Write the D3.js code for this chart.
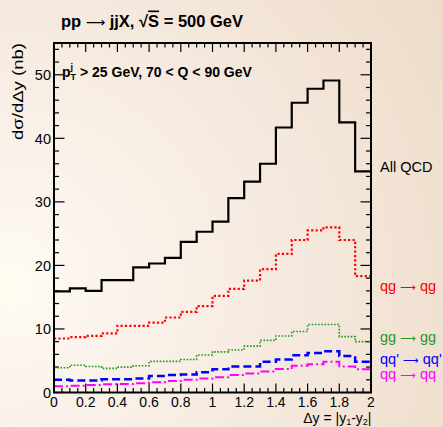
<!DOCTYPE html>
<html><head><meta charset="utf-8">
<script src="https://cdn.jsdelivr.net/npm/d3@7"></script>
<style>html,body{margin:0;padding:0;background:#f5e8dc;}svg{display:block;}</style>
</head><body>
<svg id="c" width="443" height="427"></svg>
<script>
// ---- data ----
const binEdges = [0,0.1,0.2,0.3,0.4,0.5,0.6,0.7,0.8,0.9,1.0,1.1,1.2,1.3,1.4,1.5,1.6,1.7,1.8,1.9,2.0];
const allQCD = [15.9,16.4,16.0,17.7,17.7,19.7,20.3,21.2,23.7,25.3,26.9,30.6,33.2,36.0,41.7,45.6,47.8,49.1,42.5,34.8];
const qgqg   = [8.5,8.7,8.9,9.3,10.5,10.5,11.0,11.8,12.7,13.6,15.2,16.3,17.6,19.4,21.8,24.0,25.5,26.0,24.0,18.3];
const gggg   = [3.9,4.3,4.1,3.8,4.0,4.2,4.9,4.9,5.2,5.9,6.4,6.7,7.3,8.2,8.9,9.6,10.7,10.7,8.8,8.0];
const qqpqqp = [2.0,1.9,1.9,2.1,2.1,2.2,2.6,2.75,2.85,3.2,3.65,4.1,4.1,4.85,5.2,5.85,6.2,6.5,5.75,4.85];
const qqqq   = [1.0,1.05,1.2,1.3,1.35,1.45,1.6,1.8,2.0,2.2,2.4,2.75,3.0,3.3,3.7,4.2,4.45,4.85,4.1,3.65];
const xTickLabels = ["0","0.2","0.4","0.6","0.8","1","1.2","1.4","1.6","1.8","2"];
const yTickLabels = ["0","10","20","30","40","50"];
// series label parts: [before arrow, after arrow]
const seriesNames = [["All QCD",null],["qg","qg"],["gg","gg"],["qq'","qq'"],["qq","qq"]];

const svg = d3.select("#c");
const W = 443, H = 427;
const m = {l:54, r:371, t:43, b:392.5};

// background
const defs = svg.append("defs");
const rg = defs.append("radialGradient").attr("id","bg").attr("gradientUnits","userSpaceOnUse")
  .attr("cx",10).attr("cy",285).attr("r",520);
rg.append("stop").attr("offset",0).attr("stop-color","#fffdf2");
rg.append("stop").attr("offset",0.12).attr("stop-color","#fcf6ef");
rg.append("stop").attr("offset",0.55).attr("stop-color","#f5e9de");
rg.append("stop").attr("offset",1).attr("stop-color","#eedbc8");
svg.append("rect").attr("width",W).attr("height",H).attr("fill","url(#bg)");

const x = d3.scaleLinear().domain([0,2]).range([m.l,m.r]);
const y = d3.scaleLinear().domain([0,55]).range([m.b,m.t]);

const font = "'Liberation Sans', Arial, Helvetica, sans-serif";
const arrowFont = "'DejaVu Sans', sans-serif";

// ticks
const tk = svg.append("g").attr("stroke","#000").attr("stroke-width",1.2);
const xMinor = d3.range(0,2.0001,0.05);
xMinor.forEach((v,i)=>{
  const major = (i % 4 === 0);
  const len = major ? 9 : 4.5;
  const px = x(v);
  tk.append("line").attr("x1",px).attr("x2",px).attr("y1",m.b).attr("y2",m.b-len);
  tk.append("line").attr("x1",px).attr("x2",px).attr("y1",m.t).attr("y2",m.t+len);
});
const yMinor = d3.range(0,55.001,2);
yMinor.forEach(v=>{
  const major = (v % 10 === 0);
  const len = major ? 10.5 : 5;
  const py = y(v);
  tk.append("line").attr("x1",m.l).attr("x2",m.l+len).attr("y1",py).attr("y2",py);
  tk.append("line").attr("x1",m.r).attr("x2",m.r-len).attr("y1",py).attr("y2",py);
});

// histograms
function stepLine(vals){
  const pts = vals.map((v,i)=>[binEdges[i], v]);
  pts.push([binEdges[binEdges.length-1], vals[vals.length-1]]);
  return d3.line().x(d=>x(d[0])).y(d=>y(d[1])).curve(d3.curveStepAfter)(pts);
}
const series = [
  {v:qqqq, c:"#ff00ff", w:2, dash:"9,3,2,3"},
  {v:qqpqqp, c:"#0000ff", w:2.5, dash:"8,4"},
  {v:gggg, c:"#1f9a1f", w:1.6, dash:"1.6,1.6"},
  {v:qgqg, c:"#ff0000", w:2.2, dash:"2.2,2.2"},
  {v:allQCD, c:"#000000", w:2.2, dash:null}
];
series.forEach(s=>{
  svg.append("path").attr("d",stepLine(s.v)).attr("fill","none")
    .attr("stroke",s.c).attr("stroke-width",s.w)
    .attr("stroke-dasharray",s.dash);
});

// frame
svg.append("rect").attr("x",m.l).attr("y",m.t).attr("width",m.r-m.l).attr("height",m.b-m.t)
  .attr("fill","none").attr("stroke","#000").attr("stroke-width",2);

// tick labels
const xt = d3.range(0,2.0001,0.2);
svg.append("g").selectAll("text").data(xt).join("text")
  .attr("x",d=>x(d)).attr("y",406.5).attr("text-anchor","middle")
  .attr("font-family",font).attr("font-size",14).attr("fill","#000")
  .text((d,i)=>xTickLabels[i]);
const yt = d3.range(0,50.001,10);
svg.append("g").selectAll("text").data(yt).join("text")
  .attr("x",m.l-3).attr("y",d=>y(d)+5.2).attr("text-anchor","end")
  .attr("font-family",font).attr("font-size",14.5).attr("fill","#000")
  .text((d,i)=>yTickLabels[i]);

// axis titles
svg.append("text").attr("transform","translate(22.5,43) rotate(-90)")
  .attr("text-anchor","end").attr("font-family",font).attr("font-size",15).attr("fill","#000")
  .attr("textLength",97).attr("lengthAdjust","spacingAndGlyphs")
  .text("d\u03c3/d\u0394y (nb)");

const xl = svg.append("text").attr("x",371.5).attr("y",422.5).attr("text-anchor","end")
  .attr("font-family",font).attr("font-size",14).attr("fill","#000");
xl.append("tspan").text("\u0394y = |y");
xl.append("tspan").attr("font-size",9).attr("dy",2.5).text("1");
xl.append("tspan").attr("dy",-2.5).text("-y");
xl.append("tspan").attr("font-size",9).attr("dy",2.5).text("2");
xl.append("tspan").attr("dy",-2.5).text("|");

// title
const tt = svg.append("text").attr("x",61).attr("y",26.5).attr("font-family",font)
  .attr("font-size",16.5).attr("font-weight","bold").attr("fill","#000");
tt.append("tspan").text("pp ");
tt.append("tspan").attr("font-family",arrowFont).attr("font-weight","normal").attr("font-size",13.5).text("\u27f6");
tt.append("tspan").text(" jjX, \u221a");
tt.append("tspan").attr("text-decoration","overline").text("S");
tt.append("tspan").text(" = 500 GeV");

// annotation
const an = svg.append("text").attr("x",62).attr("y",76.5).attr("font-family",font)
  .attr("font-size",14).attr("font-weight","bold").attr("fill","#000");
an.append("tspan").text("p");
an.append("tspan").attr("font-size",9).attr("dy",-6.5).text("j");
an.append("tspan").attr("font-size",9).attr("dx",-2.5).attr("dy",10).text("T");
an.append("tspan").attr("dy",-3.5).text(" > 25 GeV, 70 < Q < 90 GeV");

// series labels
const lab = [
  {t:seriesNames[0], c:"#000000", y:171.5},
  {t:seriesNames[1], c:"#ff0000", y:291},
  {t:seriesNames[2], c:"#1f9a1f", y:341.5},
  {t:seriesNames[3], c:"#0000ff", y:364},
  {t:seriesNames[4], c:"#ff00ff", y:378.5}
];
const lg = svg.append("g").selectAll("text").data(lab).join("text")
  .attr("x",380).attr("y",d=>d.y).attr("font-family",font).attr("font-size",14.5)
  .attr("fill",d=>d.c);
lg.each(function(d){
  const t = d3.select(this);
  t.append("tspan").text(d.t[0]);
  if (d.t[1] !== null) {
    t.append("tspan").text(" ");
    t.append("tspan").attr("font-family",arrowFont).attr("font-size",11).text("\u27f6");
    t.append("tspan").text(" " + d.t[1]);
  }
});
</script>
</body></html>
